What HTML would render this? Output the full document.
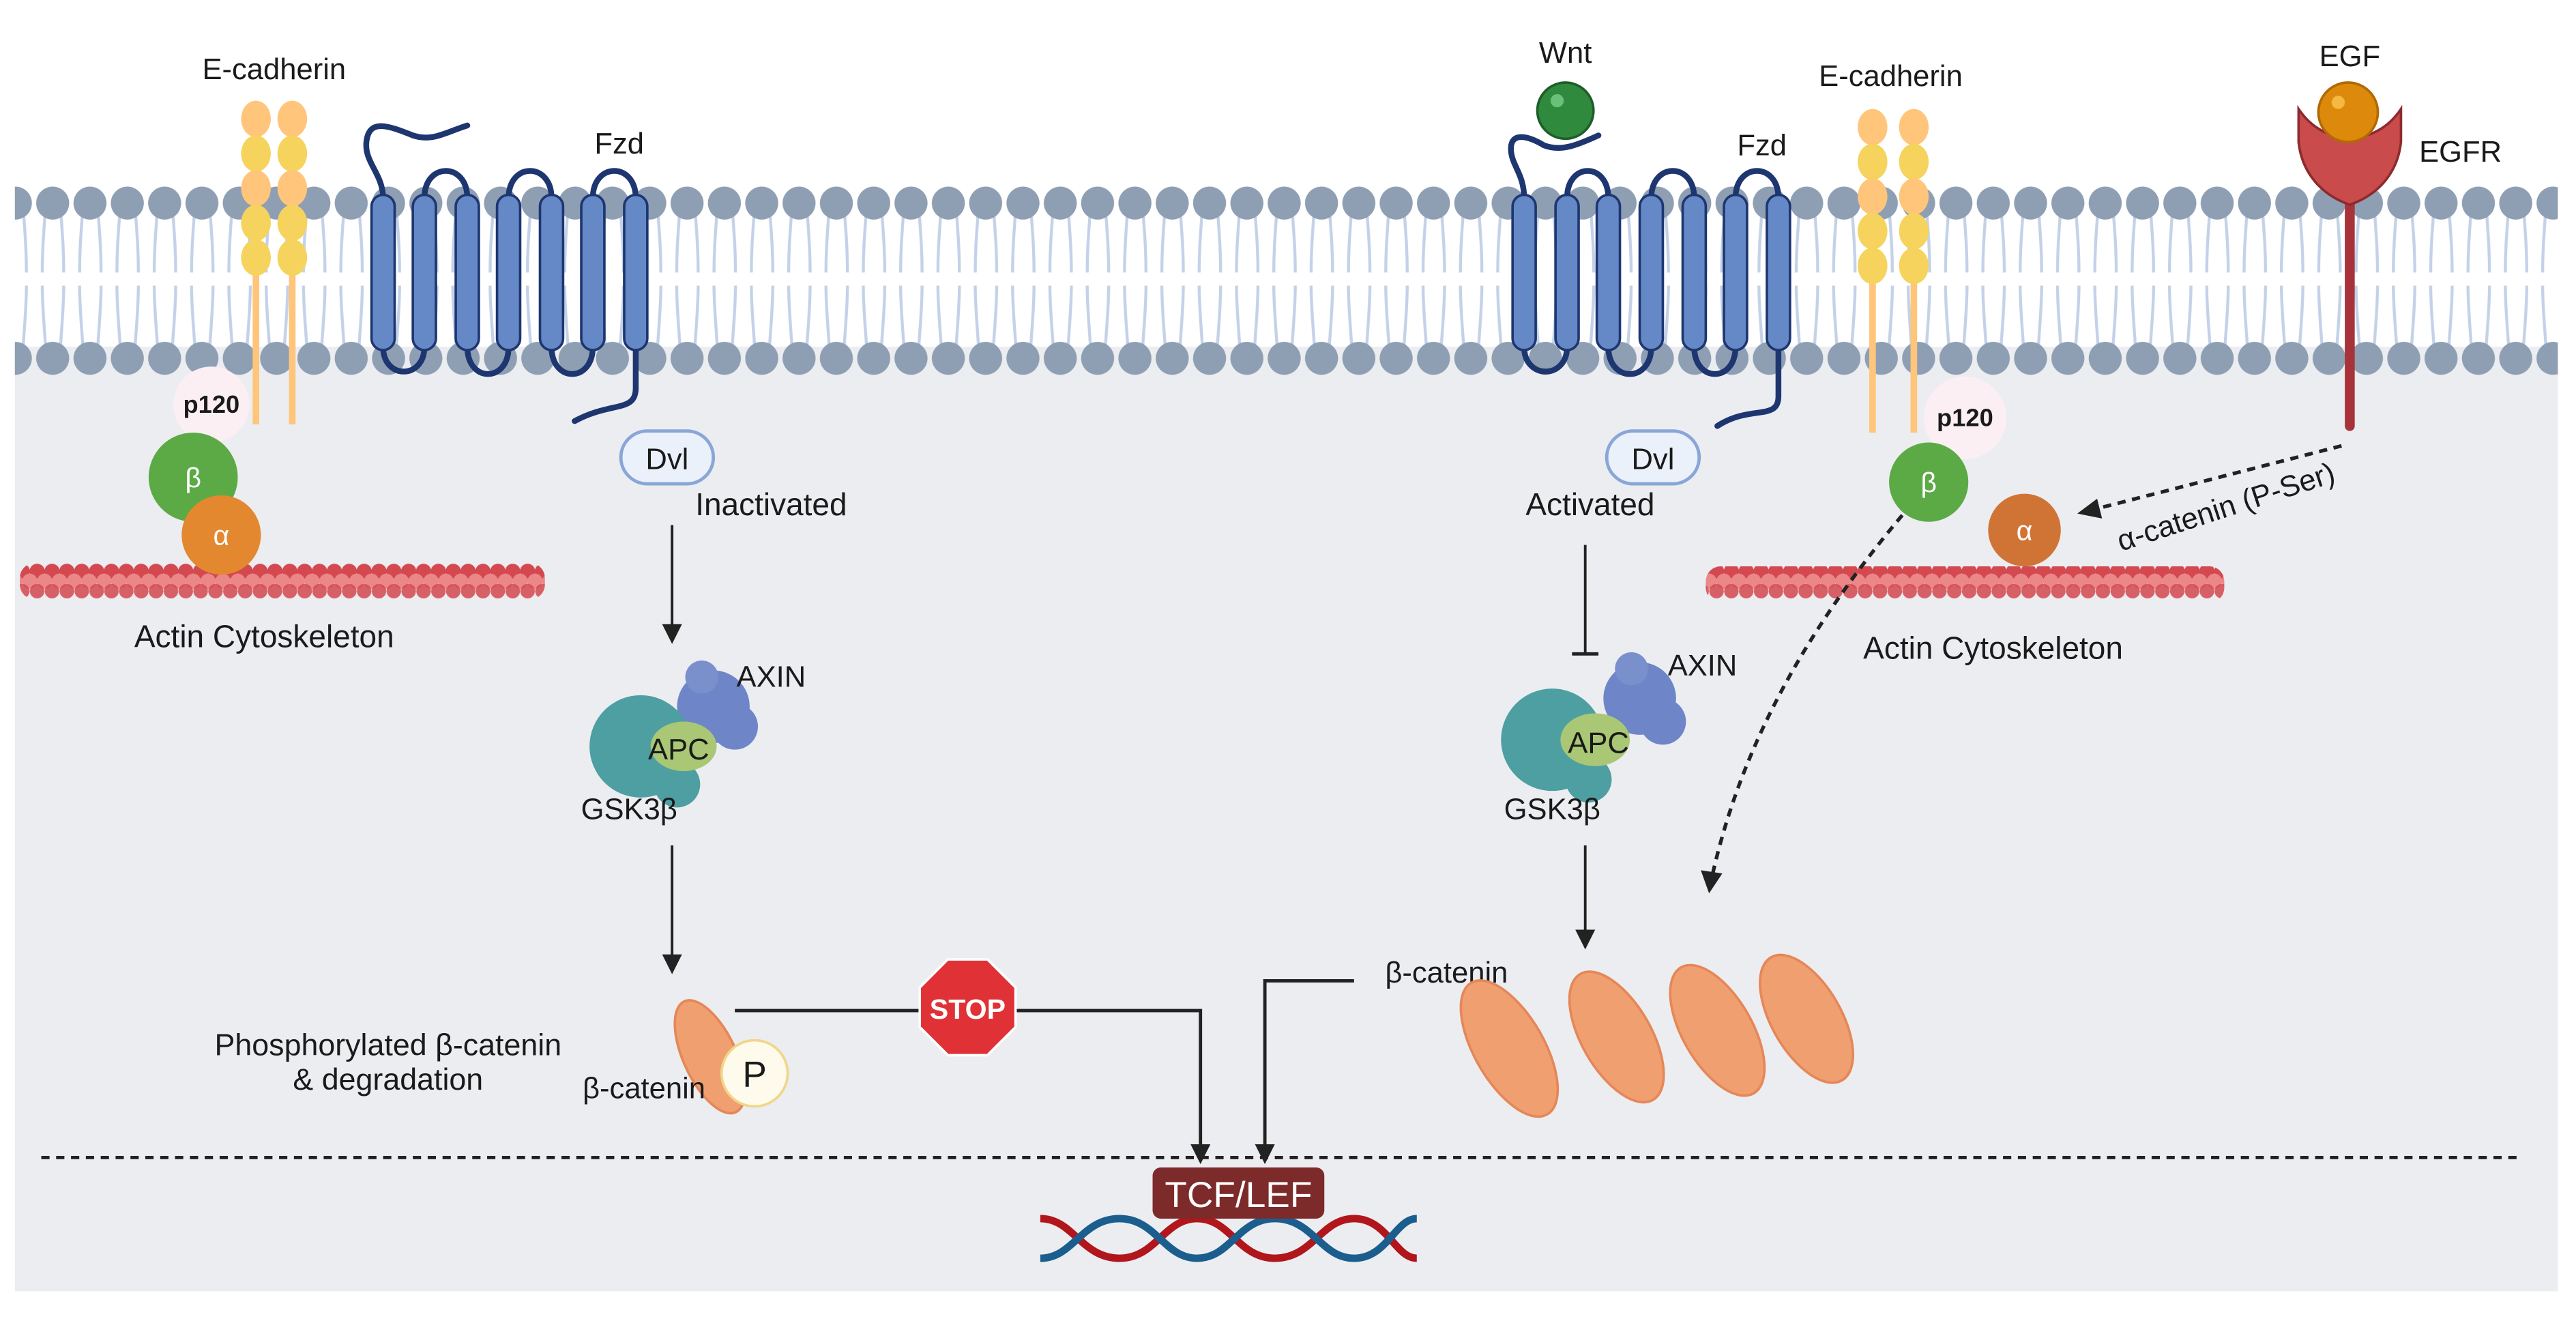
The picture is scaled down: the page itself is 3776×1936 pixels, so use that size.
<!DOCTYPE html>
<html><head><meta charset="utf-8"><style>
html,body{margin:0;padding:0;background:#fff;}
svg{display:block;}
text{font-family:"Liberation Sans",sans-serif;fill:#1a1a1a;}
</style></head><body>
<svg width="3776" height="1936" viewBox="0 0 1560 800" preserveAspectRatio="none" xmlns="http://www.w3.org/2000/svg">
<defs>
<pattern id="mem" patternUnits="userSpaceOnUse" x="-2" y="105" width="22.6" height="125">
 <g stroke="#C3D2E8" stroke-width="1.8" fill="none">
  <path d="M7,20 C6,35 5,45 5,60"/><path d="M16,20 C17,35 18,45 18,60"/>
  <path d="M5,68 C5,80 6,90 7,105"/><path d="M18,68 C18,80 17,90 16,105"/>
 </g>
 <circle cx="11.3" cy="18" r="10" fill="#8E9FB4"/>
 <circle cx="11.3" cy="112" r="10" fill="#8E9FB4"/>
</pattern>
<pattern id="actin" patternUnits="userSpaceOnUse" x="0" y="340" width="9" height="26">
 <circle cx="4.5" cy="6" r="4.6" fill="#D4484F"/>
 <circle cx="0" cy="12" r="4.6" fill="#EC8789"/>
 <circle cx="9" cy="12" r="4.6" fill="#EC8789"/>
 <circle cx="4.5" cy="18" r="4.4" fill="#D4484F" opacity="0.85"/>
</pattern>
</defs>

<rect x="9" y="210" width="1540" height="572" fill="#ECEDF1"/>
<rect x="9" y="110" width="1540" height="120" fill="url(#mem)"/>

<!-- LEFT E-cadherin -->
<line x1="155" y1="150" x2="155" y2="257" stroke="#FFC57A" stroke-width="4"/>
<line x1="177" y1="150" x2="177" y2="257" stroke="#FFC57A" stroke-width="4"/>
<g>
 <ellipse cx="155" cy="72" rx="9" ry="11" fill="#FFC57A"/><ellipse cx="177" cy="72" rx="9" ry="11" fill="#FFC57A"/>
 <ellipse cx="155" cy="93" rx="9" ry="11" fill="#F5D35C"/><ellipse cx="177" cy="93" rx="9" ry="11" fill="#F5D35C"/>
 <ellipse cx="155" cy="114" rx="9" ry="11" fill="#FFC57A"/><ellipse cx="177" cy="114" rx="9" ry="11" fill="#FFC57A"/>
 <ellipse cx="155" cy="135" rx="9" ry="11" fill="#F5D35C"/><ellipse cx="177" cy="135" rx="9" ry="11" fill="#F5D35C"/>
 <ellipse cx="155" cy="156" rx="9" ry="11" fill="#F5D35C"/><ellipse cx="177" cy="156" rx="9" ry="11" fill="#F5D35C"/>
</g>
<text x="166" y="48" font-size="18" text-anchor="middle">E-cadherin</text>
<rect x="12" y="341" width="318" height="22" rx="9" fill="url(#actin)"/>
<circle cx="128" cy="245" r="23" fill="#FBEFF4"/>
<text x="128" y="250" font-size="15" font-weight="bold" text-anchor="middle">p120</text>
<circle cx="117" cy="289" r="27" fill="#5BAA46"/>
<text x="117" y="295" font-size="17" text-anchor="middle" style="fill:#fff">β</text>
<circle cx="134" cy="324" r="24" fill="#E3882F"/>
<text x="134" y="330" font-size="17" text-anchor="middle" style="fill:#fff">α</text>
<text x="160" y="392" font-size="19" text-anchor="middle">Actin Cytoskeleton</text>

<!-- LEFT Fzd -->
<g stroke="#1E3670" stroke-width="3.5" fill="none" stroke-linecap="round">
 <path d="M232,120 C232,105 220,98 222,85 C224,72 235,76 250,82 C262,86 270,80 283,76"/>
 <path d="M232,210 C232,230 257,230 257,210"/>
 <path d="M257,120 C257,98 283,98 283,120"/>
 <path d="M283,210 C283,232 308,232 308,210"/>
 <path d="M308,120 C308,98 334,98 334,120"/>
 <path d="M334,210 C334,232 359,232 359,210"/>
 <path d="M359,120 C359,98 385,98 385,120"/>
 <path d="M385,210 L385,235 C385,250 370,243 348,255"/>
</g>
<g fill="#6589C6" stroke="#1E3670" stroke-width="1.5">
 <rect x="225" y="118" width="14" height="94" rx="7"/><rect x="250" y="118" width="14" height="94" rx="7"/>
 <rect x="276" y="118" width="14" height="94" rx="7"/><rect x="301" y="118" width="14" height="94" rx="7"/>
 <rect x="327" y="118" width="14" height="94" rx="7"/><rect x="352" y="118" width="14" height="94" rx="7"/>
 <rect x="378" y="118" width="14" height="94" rx="7"/>
</g>
<text x="375" y="93" font-size="18" text-anchor="middle">Fzd</text>
<rect x="376" y="261" width="56" height="32" rx="16" fill="#EAF1FA" stroke="#8AA6D6" stroke-width="2"/>
<text x="404" y="284" font-size="18" text-anchor="middle">Dvl</text>
<text x="467" y="312" font-size="19" text-anchor="middle">Inactivated</text>
<line x1="407" y1="318" x2="407" y2="380" stroke="#222" stroke-width="1.6"/>
<polygon points="401,378 413,378 407,390" fill="#222"/>

<g>
 <circle cx="432" cy="428" r="22" fill="#6E86C8"/><circle cx="445" cy="440" r="14" fill="#6E86C8"/>
 <circle cx="425" cy="410" r="10" fill="#7A90CC"/>
 <circle cx="388" cy="452" r="31" fill="#4E9FA2"/><circle cx="410" cy="475" r="14" fill="#4E9FA2"/>
 <ellipse cx="414" cy="452" rx="20" ry="15" fill="#A9C774"/>
</g>
<text x="467" y="416" font-size="18" text-anchor="middle">AXIN</text>
<text x="411" y="460" font-size="18" text-anchor="middle">APC</text>
<text x="381" y="496" font-size="18" text-anchor="middle">GSK3β</text>
<line x1="407" y1="512" x2="407" y2="580" stroke="#222" stroke-width="1.6"/>
<polygon points="401,578 413,578 407,590" fill="#222"/>

<ellipse cx="430" cy="640" rx="16" ry="37" transform="rotate(-25 430 640)" fill="#F0A070" stroke="#E58758" stroke-width="1.5"/>
<circle cx="457" cy="650" r="20" fill="#FFFBEC" stroke="#F0D68A" stroke-width="1.5"/>
<text x="457" y="658" font-size="22" text-anchor="middle">P</text>
<text x="235" y="639" font-size="18.5" text-anchor="middle">Phosphorylated β-catenin</text>
<text x="235" y="660" font-size="18.5" text-anchor="middle">&amp; degradation</text>
<text x="390" y="665" font-size="18" text-anchor="middle">β-catenin</text>

<polyline points="445,612 727,612 727,695" fill="none" stroke="#222" stroke-width="2"/>
<polygon points="721,693 733,693 727,705" fill="#222"/>
<polygon points="574,581 598,581 615,598 615,622 598,639 574,639 557,622 557,598" fill="#E03236" stroke="#fff" stroke-width="1.5"/>
<text x="586" y="617" font-size="17" font-weight="bold" text-anchor="middle" style="fill:#fff">STOP</text>
<polyline points="820,594 766,594 766,695" fill="none" stroke="#222" stroke-width="2"/>
<polygon points="760,693 772,693 766,705" fill="#222"/>
<text x="876" y="595" font-size="18" text-anchor="middle">β-catenin</text>

<line x1="25" y1="701" x2="1525" y2="701" stroke="#222" stroke-width="2" stroke-dasharray="5,4"/>

<g fill="none" stroke-width="4.5">
 <path d="M630,738 C650,738 655,762 678,762 C700,762 705,738 725,738 C745,738 750,762 772,762 C795,762 800,738 820,738 C840,738 845,762 858,762" stroke="#B0161B"/>
 <path d="M630,762 C650,762 655,738 678,738 C700,738 705,762 725,762 C745,762 750,738 772,738 C795,738 800,762 820,762 C840,762 845,738 858,738" stroke="#1B5E8E"/>
</g>
<rect x="698" y="707" width="104" height="31" rx="5" fill="#7D2A2A"/>
<text x="750" y="731" font-size="22" text-anchor="middle" style="fill:#fff">TCF/LEF</text>

<!-- RIGHT Fzd -->
<g stroke="#1E3670" stroke-width="3.5" fill="none" stroke-linecap="round">
 <path d="M923,120 C923,105 915,100 915,90 C915,80 925,82 935,88 C945,92 955,88 968,82"/>
 <path d="M923,210 C923,230 949,230 949,210"/>
 <path d="M949,120 C949,98 974,98 974,120"/>
 <path d="M974,210 C974,232 1000,232 1000,210"/>
 <path d="M1000,120 C1000,98 1026,98 1026,120"/>
 <path d="M1026,210 C1026,232 1051,232 1051,210"/>
 <path d="M1051,120 C1051,98 1077,98 1077,120"/>
 <path d="M1077,210 L1077,240 C1077,255 1060,245 1040,258"/>
</g>
<g fill="#6589C6" stroke="#1E3670" stroke-width="1.5">
 <rect x="916" y="118" width="14" height="94" rx="7"/><rect x="942" y="118" width="14" height="94" rx="7"/>
 <rect x="967" y="118" width="14" height="94" rx="7"/><rect x="993" y="118" width="14" height="94" rx="7"/>
 <rect x="1019" y="118" width="14" height="94" rx="7"/><rect x="1044" y="118" width="14" height="94" rx="7"/>
 <rect x="1070" y="118" width="14" height="94" rx="7"/>
</g>
<circle cx="948" cy="67" r="17" fill="#2F8A3E" stroke="#1F5E2A" stroke-width="1.5"/>
<circle cx="943" cy="61" r="4" fill="#6BC079"/>
<text x="948" y="38" font-size="18" text-anchor="middle">Wnt</text>
<text x="1067" y="94" font-size="18" text-anchor="middle">Fzd</text>
<rect x="973" y="261" width="56" height="32" rx="16" fill="#EAF1FA" stroke="#8AA6D6" stroke-width="2"/>
<text x="1001" y="284" font-size="18" text-anchor="middle">Dvl</text>
<text x="963" y="312" font-size="19" text-anchor="middle">Activated</text>
<line x1="960" y1="330" x2="960" y2="396" stroke="#222" stroke-width="1.6"/>
<line x1="952" y1="396" x2="968" y2="396" stroke="#222" stroke-width="2"/>

<g>
 <circle cx="993" cy="423" r="22" fill="#6E86C8"/><circle cx="1007" cy="437" r="14" fill="#6E86C8"/>
 <circle cx="988" cy="405" r="10" fill="#7A90CC"/>
 <circle cx="940" cy="448" r="31" fill="#4E9FA2"/><circle cx="962" cy="472" r="14" fill="#4E9FA2"/>
 <ellipse cx="966" cy="448" rx="21" ry="16" fill="#A9C774"/>
</g>
<text x="1031" y="409" font-size="18" text-anchor="middle">AXIN</text>
<text x="968" y="456" font-size="18" text-anchor="middle">APC</text>
<text x="940" y="496" font-size="18" text-anchor="middle">GSK3β</text>
<line x1="960" y1="512" x2="960" y2="565" stroke="#222" stroke-width="1.6"/>
<polygon points="954,563 966,563 960,575" fill="#222"/>

<g fill="#F0A070" stroke="#E58758" stroke-width="1.5">
 <ellipse cx="914" cy="635" rx="21" ry="46" transform="rotate(-30 914 635)"/>
 <ellipse cx="979" cy="628" rx="21" ry="44" transform="rotate(-30 979 628)"/>
 <ellipse cx="1040" cy="624" rx="21" ry="44" transform="rotate(-30 1040 624)"/>
 <ellipse cx="1094" cy="617" rx="21" ry="43" transform="rotate(-30 1094 617)"/>
</g>

<!-- RIGHT E-cadherin -->
<line x1="1134" y1="150" x2="1134" y2="262" stroke="#FFC57A" stroke-width="4"/>
<line x1="1159" y1="150" x2="1159" y2="262" stroke="#FFC57A" stroke-width="4"/>
<g>
 <ellipse cx="1134" cy="77" rx="9" ry="11" fill="#FFC57A"/><ellipse cx="1159" cy="77" rx="9" ry="11" fill="#FFC57A"/>
 <ellipse cx="1134" cy="98" rx="9" ry="11" fill="#F5D35C"/><ellipse cx="1159" cy="98" rx="9" ry="11" fill="#F5D35C"/>
 <ellipse cx="1134" cy="119" rx="9" ry="11" fill="#FFC57A"/><ellipse cx="1159" cy="119" rx="9" ry="11" fill="#FFC57A"/>
 <ellipse cx="1134" cy="140" rx="9" ry="11" fill="#F5D35C"/><ellipse cx="1159" cy="140" rx="9" ry="11" fill="#F5D35C"/>
 <ellipse cx="1134" cy="161" rx="9" ry="11" fill="#F5D35C"/><ellipse cx="1159" cy="161" rx="9" ry="11" fill="#F5D35C"/>
</g>
<text x="1145" y="52" font-size="18" text-anchor="middle">E-cadherin</text>
<rect x="1033" y="343" width="314" height="22" rx="9" fill="url(#actin)"/>
<circle cx="1190" cy="253" r="25" fill="#FBEFF4"/>
<text x="1190" y="258" font-size="15" font-weight="bold" text-anchor="middle">p120</text>
<circle cx="1168" cy="292" r="24" fill="#5BAA46"/>
<text x="1168" y="298" font-size="17" text-anchor="middle" style="fill:#fff">β</text>
<circle cx="1226" cy="321" r="22" fill="#D07436"/>
<text x="1226" y="327" font-size="17" text-anchor="middle" style="fill:#fff">α</text>
<text x="1207" y="399" font-size="19" text-anchor="middle">Actin Cytoskeleton</text>

<path d="M1152,312 C1095,380 1055,450 1037,530" fill="none" stroke="#222" stroke-width="2.2" stroke-dasharray="5,4"/>
<polygon points="1030,527 1043,529 1035,541" fill="#222"/>

<!-- EGFR -->
<line x1="1423" y1="120" x2="1423" y2="258" stroke="#A8323A" stroke-width="6" stroke-linecap="round"/>
<path d="M1392,66 C1400,78 1410,82 1423,85 C1436,82 1446,78 1454,66 L1454,86 C1452,105 1440,118 1423,124 C1406,118 1394,105 1392,86 Z" fill="#C94B4B" stroke="#8E2A2E" stroke-width="1.5"/>
<circle cx="1422" cy="68" r="18" fill="#DD8A0C" stroke="#B06A05" stroke-width="1.5"/>
<circle cx="1416" cy="62" r="4" fill="#F5B840"/>
<text x="1423" y="40" font-size="18" text-anchor="middle">EGF</text>
<text x="1490" y="98" font-size="18" text-anchor="middle">EGFR</text>
<line x1="1418" y1="270" x2="1270" y2="308" stroke="#222" stroke-width="2.2" stroke-dasharray="5,4"/>
<polygon points="1258,311 1270,302 1273,314" fill="#222"/>
<text x="1348" y="313" font-size="18" text-anchor="middle" transform="rotate(-18 1348 307)">α-catenin (P-Ser)</text>
</svg>
</body></html>
